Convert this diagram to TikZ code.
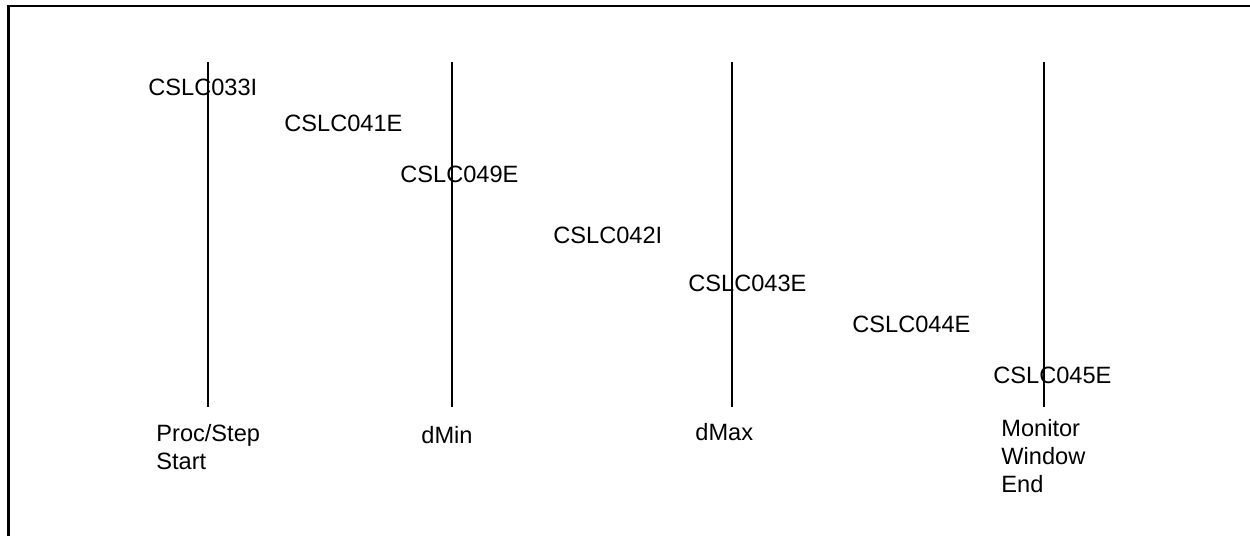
\documentclass[tikz,border=0pt]{standalone}
\usepackage{fontspec}
\setmainfont{Liberation Sans}
\begin{document}
\begin{tikzpicture}[x=0.5pt, y=-0.5pt,
    frame/.style={line width=1.25pt},
    marker/.style={line width=0.75pt},
    msg/.style={anchor=base west, inner sep=0pt},
    tag/.style={anchor=base west, inner sep=0pt, align=left},
    every node/.style={font=\fontsize{11.8}{13.8}\selectfont}
]
    \useasboundingbox (0,0) rectangle (1250,536);

    % frame
    \draw[frame] (8.5,536) -- (8.5,6) -- (1250,6);

    % time markers
    \draw[marker] (208,62) -- (208,407);
    \draw[marker] (452,62) -- (452,407);
    \draw[marker] (732,62) -- (732,407);
    \draw[marker] (1044,62) -- (1044,407);

    % messages
    \node[msg] (m033) at (148,95) {CSLC033I};
    \node[msg] (m041) at (284,131) {CSLC041E};
    \node[msg] (m049) at (400,182) {CSLC049E};
    \node[msg] (m042) at (553,243) {CSLC042I};
    \node[msg] (m043) at (688,291) {CSLC043E};
    \node[msg] (m044) at (852,332) {CSLC044E};
    \node[msg] (m045) at (993,383) {CSLC045E};

    % marker labels (base = last line)
    \node[tag] (start) at (156,469) {Proc/Step\\Start};
    \node[tag] (dmin) at (421,443) {dMin};
    \node[tag] (dmax) at (695,440) {dMax};
    \node[tag] (mwend) at (1001,492) {Monitor\\Window\\End};
\end{tikzpicture}
\end{document}
